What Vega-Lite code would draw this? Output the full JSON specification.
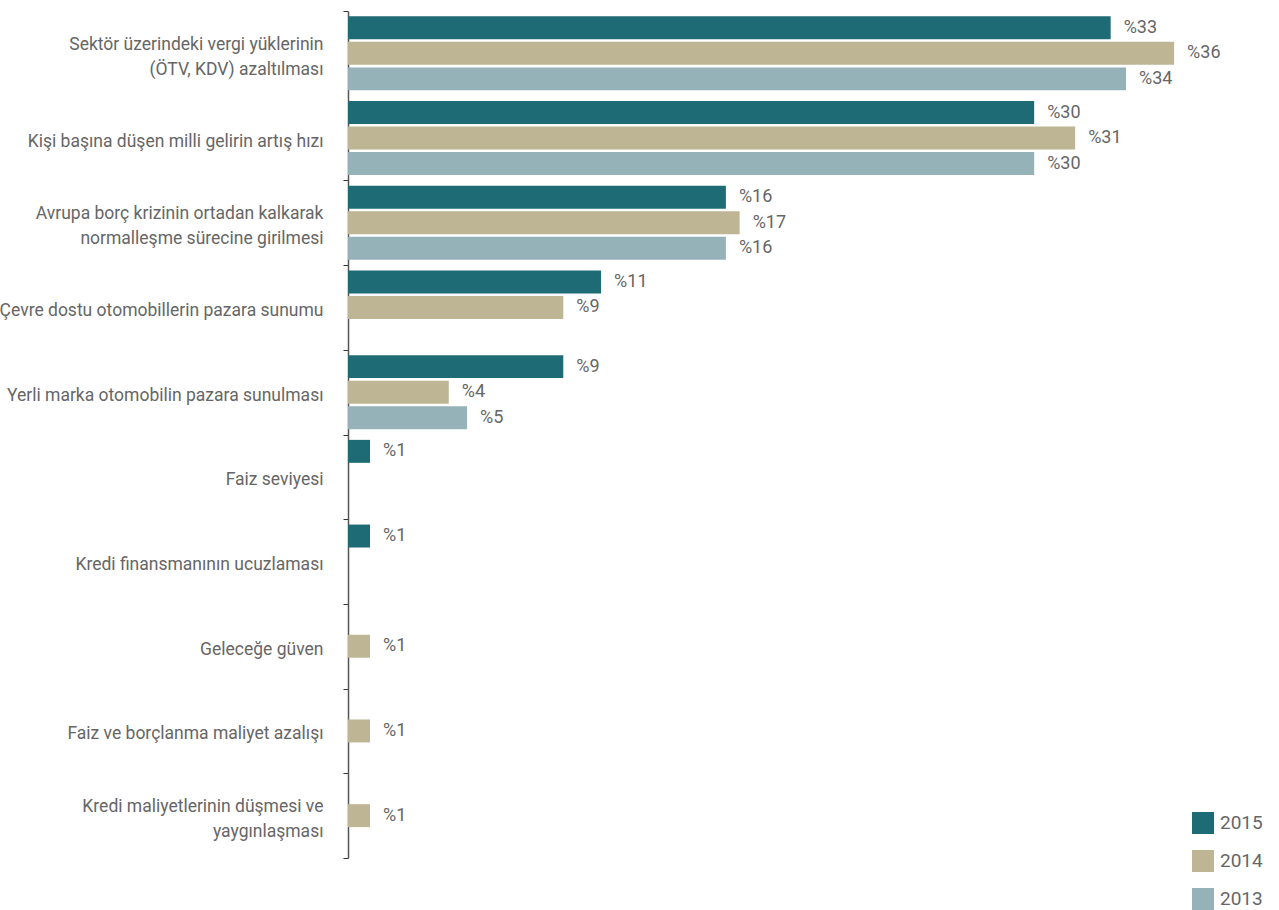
{
  "$schema": "https://vega.github.io/schema/vega-lite/v6.json",
  "autosize": {"type": "none"},
  "padding": {"left": 348, "top": 11, "right": 101, "bottom": 52},
  "width": 830,
  "height": 847,
  "background": "white",
  "config": {
    "view": {"stroke": null},
    "font": "Roboto"
  },
  "data": {
    "values": [
      {"cat": "Sektör üzerindeki vergi yüklerinin|(ÖTV, KDV) azaltılması", "year": "2015", "value": 33.3, "label": "%33"},
      {"cat": "Sektör üzerindeki vergi yüklerinin|(ÖTV, KDV) azaltılması", "year": "2014", "value": 36.07, "label": "%36"},
      {"cat": "Sektör üzerindeki vergi yüklerinin|(ÖTV, KDV) azaltılması", "year": "2013", "value": 33.97, "label": "%34"},
      {"cat": "Kişi başına düşen milli gelirin artış hızı", "year": "2015", "value": 29.96, "label": "%30"},
      {"cat": "Kişi başına düşen milli gelirin artış hızı", "year": "2014", "value": 31.75, "label": "%31"},
      {"cat": "Kişi başına düşen milli gelirin artış hızı", "year": "2013", "value": 29.96, "label": "%30"},
      {"cat": "Avrupa borç krizinin ortadan kalkarak|normalleşme sürecine girilmesi", "year": "2015", "value": 16.5, "label": "%16"},
      {"cat": "Avrupa borç krizinin ortadan kalkarak|normalleşme sürecine girilmesi", "year": "2014", "value": 17.1, "label": "%17"},
      {"cat": "Avrupa borç krizinin ortadan kalkarak|normalleşme sürecine girilmesi", "year": "2013", "value": 16.5, "label": "%16"},
      {"cat": "Çevre dostu otomobillerin pazara sunumu", "year": "2015", "value": 11.05, "label": "%11"},
      {"cat": "Çevre dostu otomobillerin pazara sunumu", "year": "2014", "value": 9.4, "label": "%9"},
      {"cat": "Yerli marka otomobilin pazara sunulması", "year": "2015", "value": 9.4, "label": "%9"},
      {"cat": "Yerli marka otomobilin pazara sunulması", "year": "2014", "value": 4.4, "label": "%4"},
      {"cat": "Yerli marka otomobilin pazara sunulması", "year": "2013", "value": 5.2, "label": "%5"},
      {"cat": "Faiz seviyesi", "year": "2015", "value": 0.96, "label": "%1"},
      {"cat": "Kredi finansmanının ucuzlaması", "year": "2015", "value": 0.96, "label": "%1"},
      {"cat": "Geleceğe güven", "year": "2014", "value": 0.96, "label": "%1"},
      {"cat": "Faiz ve borçlanma maliyet azalışı", "year": "2014", "value": 0.96, "label": "%1"},
      {"cat": "Kredi maliyetlerinin düşmesi ve|yaygınlaşması", "year": "2014", "value": 0.96, "label": "%1"}
    ]
  },
  "encoding": {
    "y": {
      "field": "cat",
      "type": "nominal",
      "sort": null,
      "scale": {"paddingInner": 0, "paddingOuter": 0},
      "axis": {
        "title": null,
        "labelExpr": "isValid(datum.value) ? split(datum.value, '|') : ''",
        "labelFont": "Roboto",
        "labelFontSize": 17.5,
        "labelColor": "#666666",
        "labelLineHeight": 25,
        "labelPadding": 20,
        "labelLimit": 400,
        "labelOffset": {"condition": {"test": "isValid(datum.value) && indexof(datum.value, '|') >= 0", "value": -9}, "value": 3},
        "tickBand": "extent",
        "tickSize": 5,
        "tickColor": "#333333",
        "tickOpacity": {"condition": {"test": "isValid(datum.value) && indexof(datum.value, 'Sektör') === 0", "value": 0}, "value": 1},
        "domainColor": "#555555",
        "domainWidth": 1.5
      }
    },
    "yOffset": {
      "field": "year",
      "type": "nominal",
      "sort": ["2015", "2014", "2013"],
      "scale": {"paddingInner": 0.1, "paddingOuter": 0.21}
    },
    "x": {
      "field": "value",
      "type": "quantitative",
      "scale": {"domain": [0, 36.24], "nice": false, "zero": true},
      "axis": null
    }
  },
  "layer": [
    {
      "mark": {"type": "bar"},
      "encoding": {
        "color": {
          "field": "year",
          "type": "nominal",
          "sort": ["2015", "2014", "2013"],
          "scale": {"domain": ["2015", "2014", "2013"], "range": ["#1f6b75", "#bdb594", "#95b2b9"]},
          "legend": {
            "title": null,
            "orient": "none",
            "legendX": 844,
            "legendY": 801,
            "padding": 0,
            "symbolType": "square",
            "symbolSize": 484,
            "symbolStrokeWidth": 0,
            "symbolOpacity": 1,
            "labelFont": "Roboto",
            "labelFontSize": 19,
            "labelColor": "#666666",
            "labelOffset": 6,
            "rowPadding": 16
          }
        }
      }
    },
    {
      "mark": {"type": "text", "align": "left", "baseline": "middle", "dx": 13, "font": "Roboto", "fontSize": 18, "color": "#666666"},
      "encoding": {
        "text": {"field": "label", "type": "nominal"}
      }
    }
  ]
}
